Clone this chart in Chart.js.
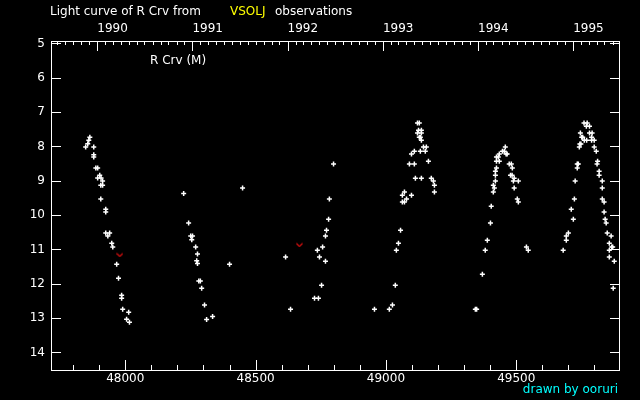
<!DOCTYPE html>
<html>
<head>
<meta charset="utf-8">
<title>Light curve of R Crv</title>
<script src="https://cdn.jsdelivr.net/npm/chart.js@4/dist/chart.umd.min.js"></script>
<style>
  html, body { margin: 0; padding: 0; background: #000; }
  #chart { display: block; }
</style>
</head>
<body>
<canvas id="chart" width="640" height="400"></canvas>
<script>
// JD - 2400000 and visual magnitude
const obsJD = [
  47864, 47860, 47856, 47848, 47879, 47879, 47879, 47887, 47894, 47902,
  47894, 47907, 47913, 47906, 47913, 47906, 47925, 47925, 47925, 47940,
  47933, 47948, 47952, 47967, 47974, 47986, 47986, 47990, 48013, 48005,
  48016,
  48224, 48243, 48251, 48258, 48255, 48270, 48277, 48274, 48277, 48282,
  48288, 48293, 48304, 48335, 48312, 48400, 48450,
  48615, 48634, 48726, 48741, 48737, 48745, 48753, 48757, 48768, 48768,
  48772, 48780, 48783, 48799,
  48956, 49013, 49025, 49036, 49040, 49048, 49056, 49063, 49071, 49079,
  49063, 49098, 49071, 49113, 49136, 49174, 49182, 49186, 49186, 49090,
  49109, 49163, 49098, 49109, 49132, 49151, 49144, 49155, 49136, 49128,
  49132, 49121, 49136, 49125, 49136, 49121, 49128,
  49343, 49348, 49370, 49381, 49389, 49401, 49404, 49412, 49416, 49412,
  49420, 49420, 49420, 49424, 49424, 49435, 49424, 49431, 49435, 49447,
  49454, 49458, 49461, 49465, 49473, 49481, 49485, 49478, 49484, 49492,
  49489, 49508, 49492, 49504, 49508, 49539, 49546,
  49680, 49692, 49692, 49700, 49719, 49711, 49723, 49726, 49734, 49734,
  49738, 49742, 49744, 49748, 49746, 49751, 49755, 49760, 49772, 49769,
  49781, 49761, 49770, 49781, 49791, 49789, 49789, 49799, 49799, 49807,
  49812, 49810, 49818, 49818, 49830, 49830, 49830, 49837, 49837, 49841,
  49845, 49849, 49864, 49857, 49866, 49870, 49857, 49857, 49876, 49872
];
const obsMag = [
  7.73, 7.82, 7.92, 8.02, 8.02, 8.24, 8.31, 8.63, 8.63, 8.84,
  8.92, 8.92, 9.01, 9.13, 9.13, 9.53, 9.83, 9.91, 10.52, 10.52,
  10.61, 10.82, 10.93, 11.43, 11.84, 12.33, 12.42, 12.74, 12.83, 13.03,
  13.12,
  9.37, 10.23, 10.61, 10.61, 10.72, 10.93, 11.13, 11.33, 11.41, 11.92,
  11.92, 12.13, 12.62, 12.95, 13.04, 11.43, 9.21,
  11.22, 12.74, 12.42, 12.42, 11.02, 11.22, 12.04, 10.93, 10.61, 11.34,
  10.44, 10.12, 9.53, 8.51,
  12.74, 12.74, 12.62, 12.04, 11.02, 10.82, 10.44, 9.62, 9.62, 9.53,
  9.42, 9.42, 9.33, 8.93, 8.93, 8.93, 9.01, 9.13, 9.33, 8.51,
  8.51, 8.43, 8.22, 8.14, 8.14, 8.14, 8.02, 8.02, 7.82, 7.73,
  7.73, 7.61, 7.61, 7.53, 7.53, 7.32, 7.32,
  12.74, 12.74, 11.72, 11.02, 10.73, 10.23, 9.74, 9.33, 9.21, 9.13,
  9.01, 8.84, 8.72, 8.63, 8.43, 8.43, 8.31, 8.31, 8.22, 8.14,
  8.14, 8.02, 8.22, 8.22, 8.51, 8.51, 8.63, 8.84, 8.84, 8.93,
  9.01, 9.01, 9.21, 9.53, 9.62, 10.93, 11.02,
  11.02, 10.73, 10.61, 10.52, 10.12, 9.83, 9.53, 9.01, 8.63, 8.51,
  8.51, 8.02, 7.93, 7.93, 7.61, 7.73, 7.73, 7.32, 7.32, 7.41,
  7.41, 7.82, 7.82, 7.61, 7.61, 7.73, 7.82, 7.82, 8.02, 8.14,
  8.43, 8.51, 8.72, 8.84, 9.01, 9.21, 9.53, 9.62, 9.91, 10.12,
  10.23, 10.52, 10.61, 10.82, 10.93, 10.93, 11.02, 11.22, 11.34, 12.13
];
// "fainter than" observations
const fainterJD = [47979, 48668];
const fainterMag = [11.16, 10.87];

const jdTicks = [48000, 48500, 49000, 49500];
const magTicks = [5, 6, 7, 8, 9, 10, 11, 12, 13, 14];
const yearLabels = ['1990', '1991', '1992', '1993', '1994', '1995'];

const X_MIN = 47715, X_MAX = 49898;
const Y_MIN = 4.93, Y_MAX = 14.51;
const FONT = '12px "DejaVu Sans"';

function jdOf(y, m) {
  return Date.UTC(y, m, 1) / 86400000 + 2440587.5 - 2400000;
}
const yearJD = yearLabels.map((y) => jdOf(+y, 0));

function toPoints(xs, ys) {
  return xs.map((x, i) => ({ x: x, y: ys[i] }));
}

// small red "v" marker for fainter-than estimates
const vMark = document.createElement('canvas');
vMark.width = 7;
vMark.height = 5;
{
  const c = vMark.getContext('2d');
  c.strokeStyle = '#e01010';
  c.lineWidth = 1.2;
  c.beginPath();
  c.moveTo(0.5, 1);
  c.lineTo(3.5, 4);
  c.lineTo(6.5, 1);
  c.stroke();
}

const frame = {
  id: 'frame',
  beforeDraw(chart) {
    const ctx = chart.ctx;
    ctx.save();
    ctx.fillStyle = '#000';
    ctx.fillRect(0, 0, chart.width, chart.height);
    ctx.restore();
  },
  afterDraw(chart) {
    const { ctx, chartArea: a, scales } = chart;
    const x = scales.x, y = scales.y;
    ctx.save();
    ctx.strokeStyle = '#fff';
    ctx.lineWidth = 1;
    ctx.strokeRect(Math.round(a.left) + 0.5, Math.round(a.top) + 0.5,
      Math.round(a.right - a.left) - 1, Math.round(a.bottom - a.top));
    ctx.beginPath();
    magTicks.forEach((m) => {
      const py = Math.round(y.getPixelForValue(m)) + 0.5;
      ctx.moveTo(a.left, py); ctx.lineTo(a.left + 10, py);
      ctx.moveTo(a.right - 10, py); ctx.lineTo(a.right, py);
    });
    for (let v = 47800; v <= X_MAX; v += 100) {
      const px = Math.round(x.getPixelForValue(v)) + 0.5;
      const len = v % 500 === 0 ? 10 : 5;
      ctx.moveTo(px, a.bottom); ctx.lineTo(px, a.bottom - len);
    }
    for (let yr = 1989; yr <= 1995; yr++) {
      for (let m = 0; m < 12; m++) {
        const jd = jdOf(yr, m);
        if (jd < X_MIN || jd > X_MAX) continue;
        const px = Math.round(x.getPixelForValue(jd)) + 0.5;
        const len = m === 0 ? 10 : 4;
        ctx.moveTo(px, a.top); ctx.lineTo(px, a.top + len);
      }
    }
    ctx.stroke();

    ctx.font = FONT;
    ctx.textBaseline = 'middle';
    ctx.textAlign = 'left';
    ctx.fillStyle = '#fff';
    ctx.fillText('Light curve of R Crv from', 50, 12);
    ctx.fillStyle = '#ffff00';
    ctx.fillText('VSOLJ', 230, 12);
    ctx.fillStyle = '#fff';
    ctx.fillText('observations', 275, 12);
    ctx.fillText('R Crv (M)', 150, 61);
    ctx.fillStyle = '#00ffff';
    ctx.textAlign = 'right';
    ctx.fillText('drawn by ooruri', 618, 390);
    ctx.restore();
  }
};

const tickFont = { family: 'DejaVu Sans', size: 12 };

new Chart(document.getElementById('chart'), {
  type: 'scatter',
  data: {
    datasets: [{
      label: 'visual',
      data: toPoints(obsJD, obsMag),
      pointStyle: 'cross',
      radius: 2.5,
      borderWidth: 1.5,
      borderColor: '#fff',
      backgroundColor: '#fff'
    }, {
      label: 'fainter than',
      data: toPoints(fainterJD, fainterMag),
      pointStyle: vMark,
      radius: 3
    }]
  },
  plugins: [frame],
  options: {
    responsive: false,
    animation: false,
    events: [],
    layout: { padding: { left: 0, right: 20, top: 0, bottom: 0 } },
    plugins: { legend: { display: false }, tooltip: { enabled: false } },
    scales: {
      x: {
        type: 'linear', position: 'bottom', min: X_MIN, max: X_MAX,
        grid: { display: false, drawTicks: false },
        border: { display: false },
        afterBuildTicks: (s) => { s.ticks = jdTicks.map((v) => ({ value: v })); },
        afterFit: (s) => { s.height = 30; },
        ticks: {
          color: '#fff', font: tickFont,
          padding: 2, maxRotation: 0, autoSkip: false,
          callback: (v) => String(v)
        }
      },
      x2: {
        type: 'linear', position: 'top', min: X_MIN, max: X_MAX,
        grid: { display: false, drawTicks: false },
        border: { display: false },
        afterBuildTicks: (s) => { s.ticks = yearJD.map((v) => ({ value: v })); },
        afterFit: (s) => { s.height = 41; },
        ticks: {
          color: '#fff', font: tickFont,
          padding: 5, maxRotation: 0, autoSkip: false, align: 'start',
          callback: (v, i) => yearLabels[i]
        }
      },
      y: {
        type: 'linear', reverse: true, min: Y_MIN, max: Y_MAX,
        grid: { display: false, drawTicks: false },
        border: { display: false },
        afterBuildTicks: (s) => { s.ticks = magTicks.map((v) => ({ value: v })); },
        afterFit: (s) => { s.width = 51; },
        ticks: {
          color: '#fff', font: tickFont,
          padding: 6,
          callback: (v) => String(v)
        }
      }
    }
  }
});
</script>
</body>
</html>
